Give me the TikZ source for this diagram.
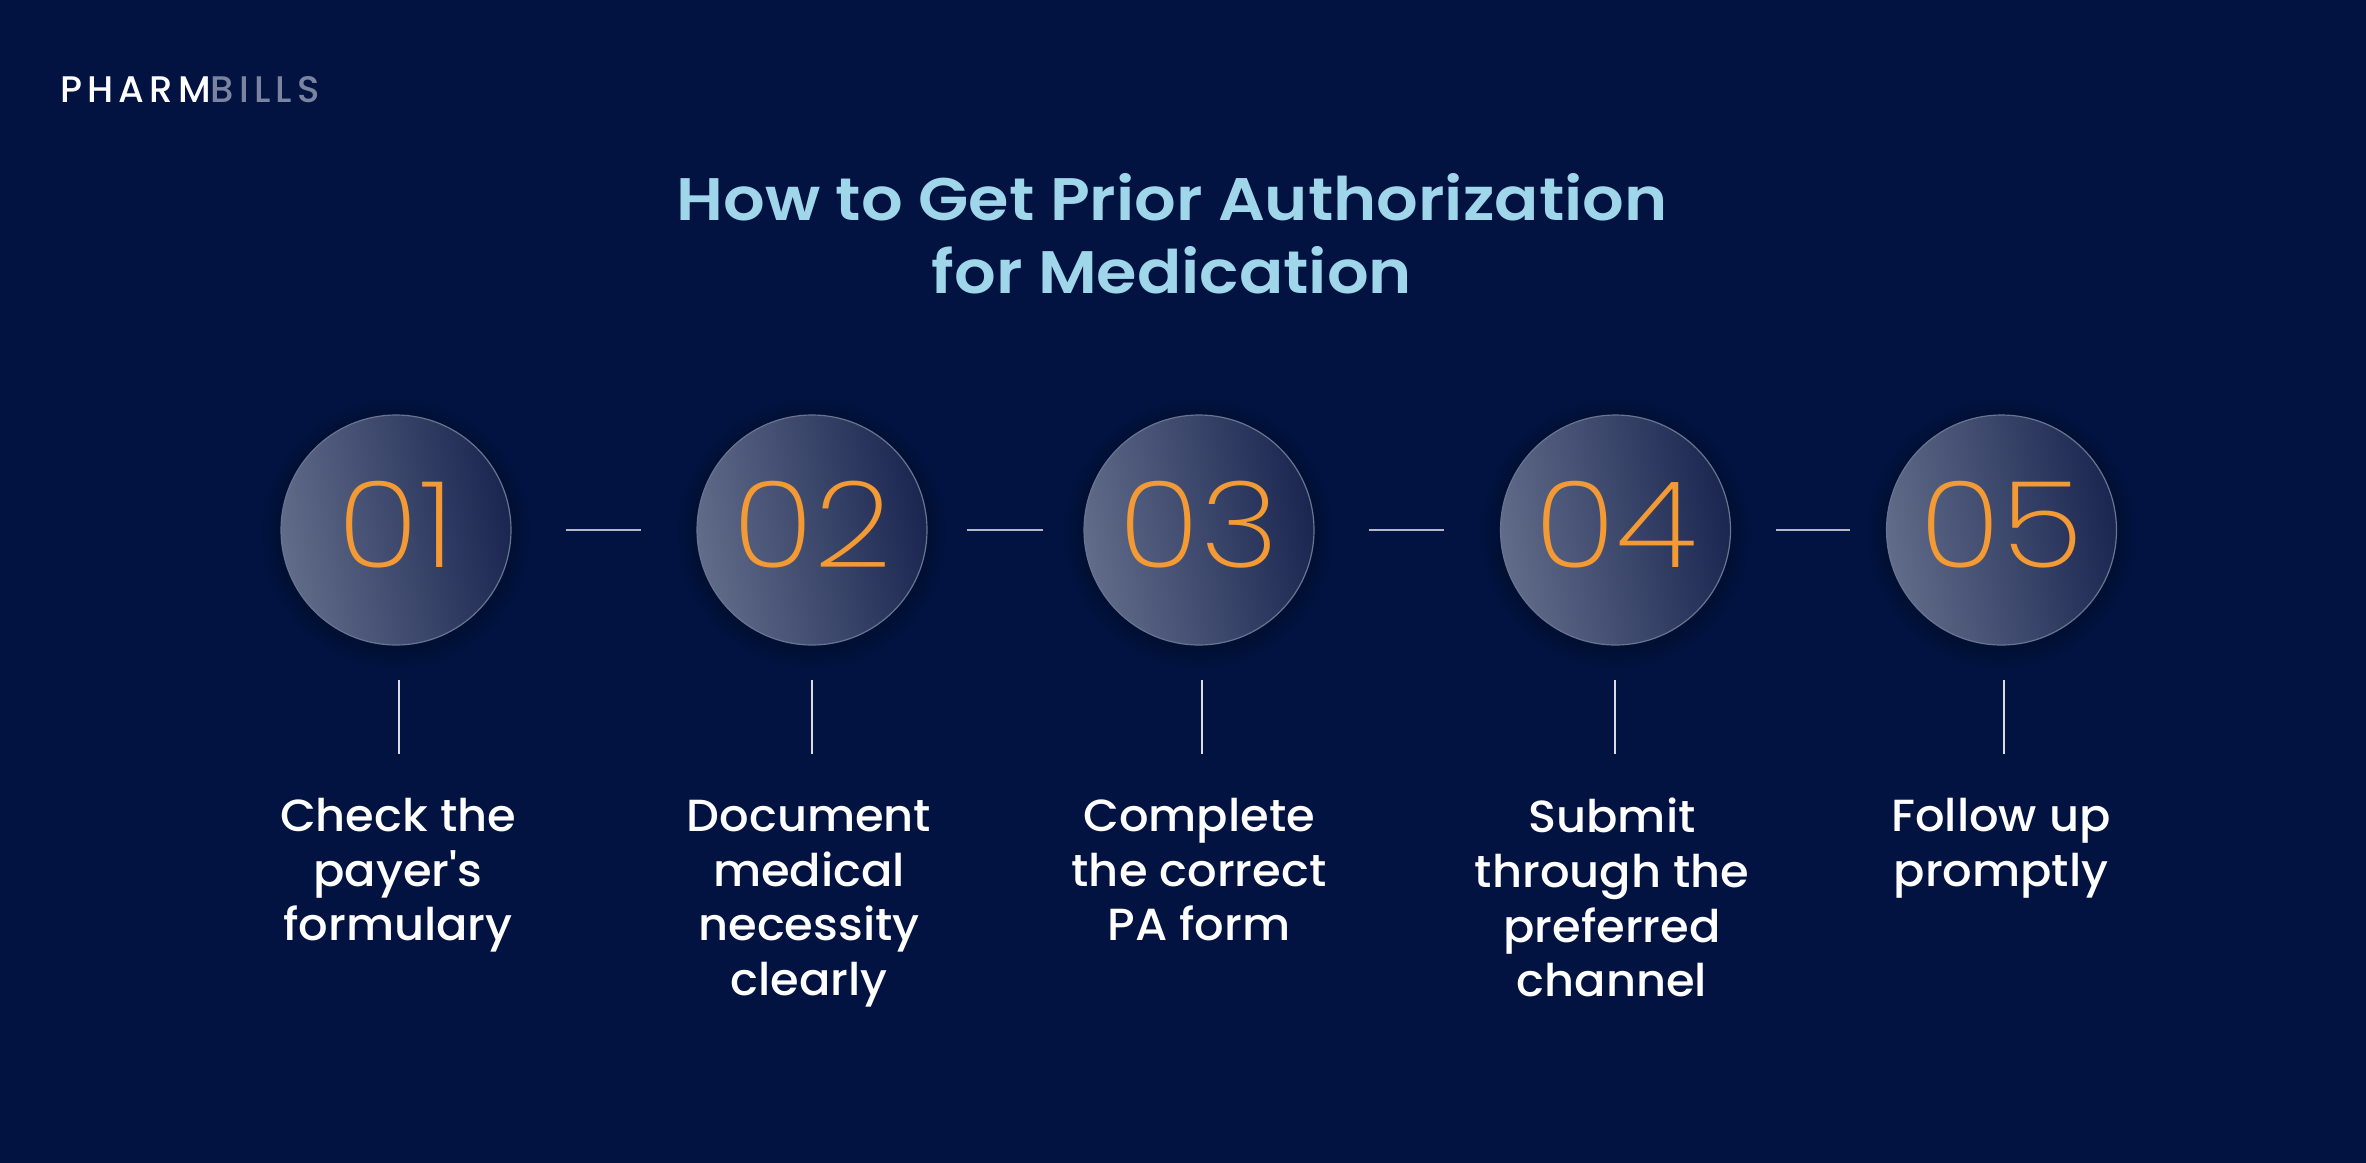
\documentclass[tikz,border=0pt]{standalone}
\usepackage{fontspec}
\setmainfont{Poppins}
\newfontfamily\medfont{Poppins Medium}
\newfontfamily\stepfont[FakeStretch=1.03]{Poppins Medium}
\newfontfamily\semifont[FakeStretch=1.09]{Poppins SemiBold}
\newfontfamily\thinfont[FakeStretch=1.13]{Poppins ExtraLight}
\usetikzlibrary{positioning, shadows}

\definecolor{pagebg}{HTML}{021342}
\definecolor{numorange}{HTML}{F39A34}
\definecolor{titleblue}{HTML}{A0D6EA}
\definecolor{logogray}{HTML}{7A84A0}
\definecolor{ringgray}{HTML}{6A7490}
\definecolor{discleft}{HTML}{616C8A}
\definecolor{discright}{HTML}{1A2650}
\pgfdeclareradialshading{discglow}{\pgfpoint{0bp}{0bp}}{color(0bp)=(black); color(100bp)=(black)}

\begin{document}
\begin{tikzpicture}[
    x=1pt, y=-1pt,
    glow/.style={general shadow={shadow scale=#1, shadow yshift=-3pt, draw=none, shading=discglow, opacity=0.05}},
    disc/.style={circle, draw=ringgray, line width=1.2pt, inner sep=0pt,
      minimum size=230pt, left color=discleft, right color=discright,
      shading angle=100, text=numorange, text depth=12pt,
      font=\thinfont\fontsize{120}{120}\selectfont,
      glow=1.16, glow=1.12, glow=1.08, glow=1.04},
    steptext/.style={text=white, align=center, anchor=north, inner sep=0pt,
      font=\stepfont\fontsize{45}{54.6}\selectfont},
    hlink/.style={draw=white!70!pagebg, line width=1.6pt},
    vlink/.style={draw=white!85!pagebg, line width=1.2pt}
  ]
    \useasboundingbox (0,0) rectangle (2366,1162);
    \fill[pagebg] (-5,-5) rectangle (2371,1167);

    \node[anchor=west, inner sep=0pt, text=white, font=\medfont\fontsize{37}{37}\selectfont] (logo) at (60,90)
      {\addfontfeatures{LetterSpace=14}PHARM\textcolor{logogray}{BILLS}};
    \node[align=center, inner sep=0pt, text=titleblue, font=\semifont\fontsize{60}{73}\selectfont] (title) at (1172,233.5)
      {How to Get Prior Authorization\\for Medication};

    \node[disc] (c1) at (396,530) {01};
    \node[disc, right=184.8pt of c1] (c2) {02};
    \node[disc, right=155.8pt of c2] (c3) {03};
    \node[disc, right=185.3pt of c3] (c4) {04};
    \node[disc, right=154.8pt of c4] (c5) {05};

    \node[steptext] (t1) at (398,798) {Check the\\payer's\\formulary};
    \node[steptext] (t2) at (809,800) {Document\\medical\\necessity\\clearly};
    \node[steptext] (t3) at (1199,798) {Complete\\the correct\\PA form};
    \node[steptext] (t4) at (1612,798) {Submit\\through the\\preferred\\channel};
    \node[steptext] (t5) at (2001,798) {Follow up\\promptly};

    \coordinate (v1a) at (399,680);  \coordinate (v1b) at (399,754);
    \coordinate (v2a) at (812,680);  \coordinate (v2b) at (812,754);
    \coordinate (v3a) at (1202,680); \coordinate (v3b) at (1202,754);
    \coordinate (v4a) at (1615,680); \coordinate (v4b) at (1615,754);
    \coordinate (v5a) at (2004,680); \coordinate (v5b) at (2004,754);

    \draw[hlink, shorten <=54pt, shorten >=55pt] (c1) -- (c2);
    \draw[hlink, shorten <=39pt, shorten >=40pt] (c2) -- (c3);
    \draw[hlink, shorten <=54pt, shorten >=55.5pt] (c3) -- (c4);
    \draw[hlink, shorten <=44.5pt, shorten >=35.5pt] (c4) -- (c5);

    \draw[vlink] (v1a) -- (v1b);
    \draw[vlink] (v2a) -- (v2b);
    \draw[vlink] (v3a) -- (v3b);
    \draw[vlink] (v4a) -- (v4b);
    \draw[vlink] (v5a) -- (v5b);
  \end{tikzpicture}
\end{document}
